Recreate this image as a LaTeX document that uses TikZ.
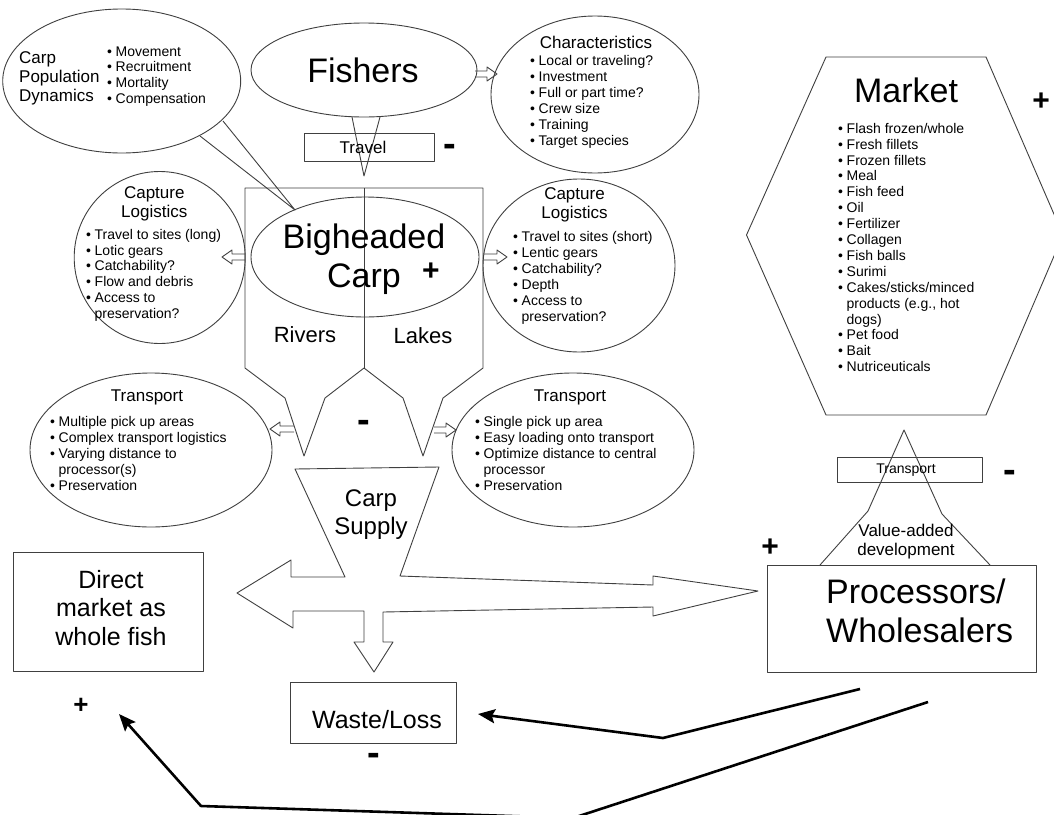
\documentclass[tikz,border=0pt]{standalone}
\usepackage{fontspec}
\setmainfont{Liberation Sans}
\usetikzlibrary{shapes.geometric,arrows.meta}
\newcommand{\bitm}[1]{\makebox[8.5pt][l]{\textbullet}#1}
\newcommand{\bcnt}[1]{\hspace*{8.5pt}#1}
\newcommand{\fsz}[2]{\fontsize{#1}{#2}\selectfont}
\newcommand{\harR}[3]{\draw[ln] (#1,#3-3) -- (#2-10,#3-3) -- (#2-10,#3-7) -- (#2,#3) -- (#2-10,#3+7) -- (#2-10,#3+3) -- (#1,#3+3);}
\newcommand{\harL}[3]{\draw[ln] (#1,#3-3) -- (#2+10,#3-3) -- (#2+10,#3-7) -- (#2,#3) -- (#2+10,#3+7) -- (#2+10,#3+3) -- (#1,#3+3);}
\begin{document}
\begin{tikzpicture}[x=1pt,y=-1pt,
  ln/.style={draw=black!75,line width=0.9pt,line join=round},
  ell/.style={ln,ellipse,inner sep=0pt},
  bx/.style={ln,rectangle,inner sep=0pt},
  tx/.style={inner sep=0pt,text=black},
  bl/.style={tx,anchor=west,align=left,font=\fsz{14}{15.9}},
  ttl/.style={tx,align=center,font=\fsz{17}{19}},
  big/.style={tx,align=center,font=\fsz{34}{38.5}},
  pls/.style={tx,anchor=base,font=\fsz{30}{30}\bfseries},
  mns/.style={tx,anchor=base,font=\fsz{38}{38}\bfseries},
  blk/.style={draw=black,line width=2.6pt,line join=round,-{Stealth[length=17pt,width=14pt,inset=3pt]}}
]
\useasboundingbox (0,0) rectangle (1054,814);
\clip (0,0) rectangle (1054,814);
\fill[white] (0,0) rectangle (1054,814);

% ---------- ellipses ----------
\node[ell,minimum width=238pt,minimum height=144pt] (pop) at (121.7,81) {};
\node[ell,minimum width=226pt,minimum height=94pt] (fish) at (364,70) {};
\node[ell,minimum width=208pt,minimum height=157pt] (chr) at (595,94.5) {};
\node[ell,minimum width=171pt,minimum height=172pt] (capL) at (159.7,257.5) {};
\node[ell,minimum width=192pt,minimum height=173pt] (capR) at (579,265.5) {};
\node[ell,minimum width=242pt,minimum height=154pt] (trL) at (151,450) {};
\node[ell,minimum width=242pt,minimum height=154pt] (trR) at (573,450) {};

% ---------- funnel (Rivers / Lakes) ----------
\draw[ln] (245,188) -- (483,188) -- (483,368) -- (443,398) -- (423,456) -- (403,398)
  -- (364,368) -- (325,398) -- (304,456) -- (285,398) -- (245,368) -- cycle;
\draw[ln] (364,188) -- (364,368);
\node[ell,minimum width=228pt,minimum height=120pt] (carp) at (365,257) {};

% callout from population dynamics
\coordinate (popA) at (200,136);
\coordinate (popB) at (223,121);
\coordinate (carpTip) at (295,210);
\draw[ln] (popA) -- (carpTip) -- (popB);

% travel
\node[bx,minimum width=130pt,minimum height=28pt] (travel) at (369,147) {};
\coordinate (fishL) at (352,117);
\coordinate (fishR) at (380,117);
\coordinate (travelTip) at (364,176);
\draw[ln] (fishL) -- (travelTip) -- (fishR);

% hollow arrows
\harR{475}{497}{74}
\harL{245}{222}{257}
\harR{483}{507}{257}
\harL{294}{270}{429}
\harR{434}{456}{430}

% ---------- Carp supply and distribution arrows ----------
\draw[ln] (295,469) -- (439,467) -- (400,576) -- (653,585) -- (653,576) -- (758,591)
  -- (653,616) -- (653,607) -- (383,612) -- (383,642) -- (393,642) -- (374,672)
  -- (354,642) -- (364,642) -- (364,611) -- (293,611) -- (293,628) -- (237,593)
  -- (291,560) -- (291,577) -- (345,577) -- cycle;

% ---------- boxes ----------
\node[bx,minimum width=190pt,minimum height=119pt] (direct) at (108,611.5) {};
\node[bx,minimum width=166pt,minimum height=61pt] (waste) at (373,712.5) {};
\node[bx,minimum width=269pt,minimum height=107pt] (proc) at (901.5,618.5) {};

% ---------- market ----------
\draw[ln] (826,57) -- (986,57) -- (1063,235) -- (986,415) -- (826,415) -- (746.5,235) -- cycle;
\node[bx,minimum width=145pt,minimum height=25pt] (trM) at (909.5,469.5) {};
\draw[ln] (820,565) -- (868,511) -- (904,430) -- (942,514) -- (990,565);

% ---------- black feedback arrows ----------
\coordinate (pA) at (860,689);
\coordinate (pB) at (928,702);
\coordinate (wasteIn) at (478,714);
\coordinate (directIn) at (119,714);
\draw[blk] (pA) -- (663,738) -- (wasteIn);
\draw[blk] (pB) -- (573,818) -- (201,806) -- (directIn);

% ---------- texts ----------
\node[tx,anchor=west,align=left,font=\fsz{17}{19}] (tPop) at (19,78) {Carp\\Population\\Dynamics};
\node[bl] (lPop) at (107,76.5) {\bitm{Movement}\\\bitm{Recruitment}\\\bitm{Mortality}\\\bitm{Compensation}};

\node[tx,font=\fsz{34}{38}] (tFish) at (363,70) {Fishers};
\node[ttl] (tChr) at (596,42) {Characteristics};
\node[bl] (lChr) at (530,102) {\bitm{Local or traveling?}\\\bitm{Investment}\\\bitm{Full or part time?}\\\bitm{Crew size}\\\bitm{Training}\\\bitm{Target species}};

\node[tx,font=\fsz{17}{19}] (tTravel) at (363,147) {Travel};
\node[mns] (mTravel) at (450,156.9) {-};

\node[ttl] (tCapL) at (154.3,204) {Capture\\Logistics};
\node[bl] (lCapL) at (86,275.3) {\bitm{Travel to sites (long)}\\\bitm{Lotic gears}\\\bitm{Catchability?}\\\bitm{Flow and debris}\\\bitm{Access to}\\\bcnt{preservation?}};
\node[ttl] (tCapR) at (574.5,205) {Capture\\Logistics};
\node[bl] (lCapR) at (513,277.7) {\bitm{Travel to sites (short)}\\\bitm{Lentic gears}\\\bitm{Catchability?}\\\bitm{Depth}\\\bitm{Access to}\\\bcnt{preservation?}};

\node[big] (tCarp) at (364,259) {Bigheaded\\Carp};
\node[pls] (pCarp) at (431,280.8) {+};
\node[tx,font=\fsz{22}{24}] (tRiv) at (305,335) {Rivers};
\node[tx,font=\fsz{22}{24}] (tLak) at (423,336) {Lakes};

\node[ttl] (tTrL) at (147,397) {Transport};
\node[bl] (lTrL) at (50,453.5) {\bitm{Multiple pick up areas}\\\bitm{Complex transport logistics}\\\bitm{Varying distance to}\\\bcnt{processor(s)}\\\bitm{Preservation}};
\node[ttl] (tTrR) at (570,397) {Transport};
\node[bl] (lTrR) at (475,453.5) {\bitm{Single pick up area}\\\bitm{Easy loading onto transport}\\\bitm{Optimize distance to central}\\\bcnt{processor}\\\bitm{Preservation}};
\node[mns] (mMid) at (364,432.9) {-};

\node[tx,align=center,font=\fsz{24}{28}] (tSup) at (371,515) {Carp\\Supply};
\node[tx,align=center,font=\fsz{25}{28.5}] (tDir) at (111,608) {Direct\\market as\\whole fish};
\node[pls,font=\fsz{26}{26}\bfseries] (pDir) at (81,713.4) {+};
\node[tx,font=\fsz{25}{28}] (tWaste) at (377,720) {Waste/Loss};
\node[mns] (mWaste) at (374,765.9) {-};

\node[tx,anchor=west,align=left,font=\fsz{34}{39}] (tProc) at (826,610.5) {Processors/\\Wholesalers};
\node[pls] (pProc) at (770,556.8) {+};
\node[tx,font=\fsz{14}{16}] (tTrM) at (906,470) {Transport};
\node[mns] (mTrM) at (1010,482.9) {-};
\node[tx,align=center,font=\fsz{17}{18.5}] (tVal) at (906,541.7) {Value-added\\development};

\node[tx,font=\fsz{34}{38}] (tMkt) at (906,90) {Market};
\node[pls] (pMkt) at (1041,110.8) {+};
\node[bl] (lMkt) at (838,247.5) {\bitm{Flash frozen/whole}\\\bitm{Fresh fillets}\\\bitm{Frozen fillets}\\\bitm{Meal}\\\bitm{Fish feed}\\\bitm{Oil}\\\bitm{Fertilizer}\\\bitm{Collagen}\\\bitm{Fish balls}\\\bitm{Surimi}\\\bitm{Cakes/sticks/minced}\\\bcnt{products (e.g., hot}\\\bcnt{dogs)}\\\bitm{Pet food}\\\bitm{Bait}\\\bitm{Nutriceuticals}};
\end{tikzpicture}
\end{document}
